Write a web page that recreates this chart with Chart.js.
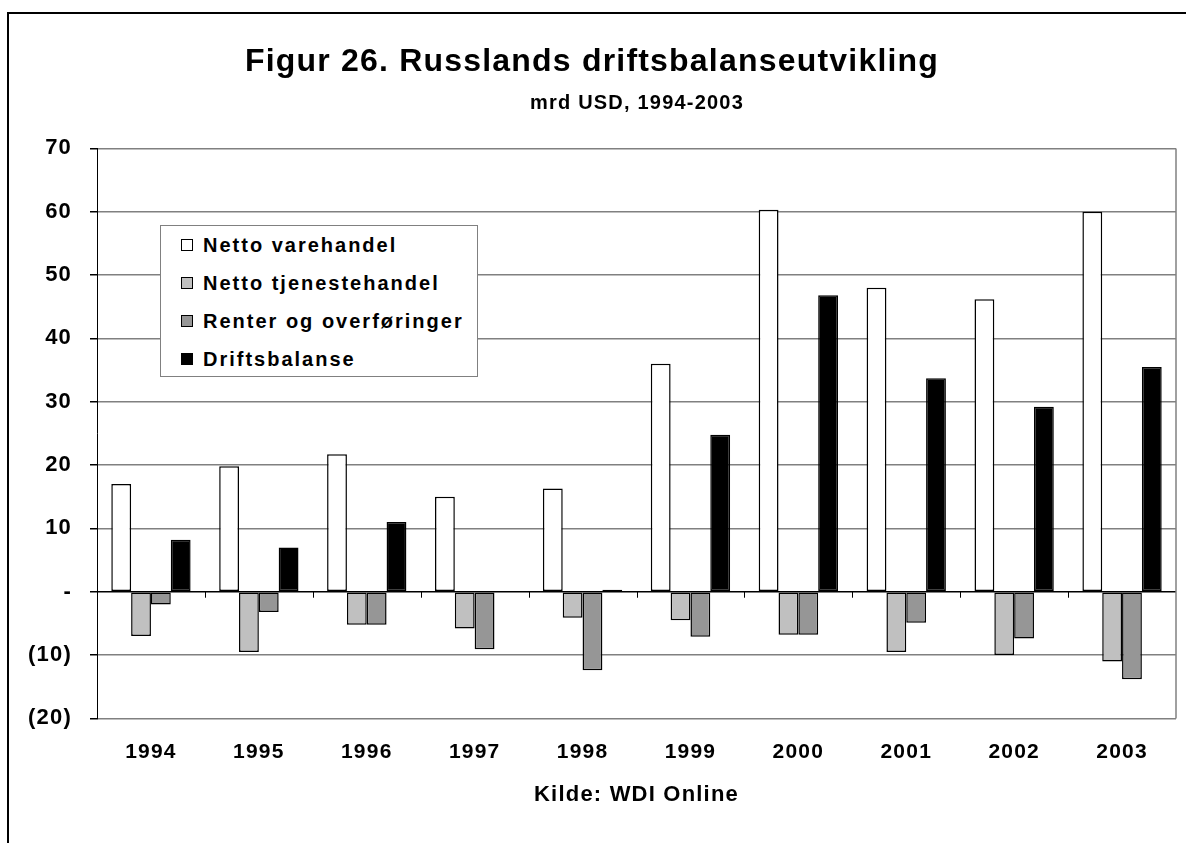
<!DOCTYPE html>
<html>
<head>
<meta charset="utf-8">
<title>Figur 26. Russlands driftsbalanseutvikling</title>
<script src="https://cdn.jsdelivr.net/npm/chart.js@4.4.0/dist/chart.umd.min.js"></script>
<style>
  html, body { margin: 0; padding: 0; background: #fff; }
  #wrap { position: relative; width: 1186px; height: 843px; overflow: hidden; }
  #frame {
    position: absolute; left: 7px; top: 12px; width: 1300px; height: 1000px;
    border-left: 2px solid #000; border-top: 2px solid #000; pointer-events: none;
  }
  #legend {
    position: absolute; left: 160px; top: 225px; width: 318px; height: 152px;
    box-sizing: border-box; border: 1.5px solid #808080; background: #fff;
    font: bold 20px 'Liberation Sans', Arial, sans-serif; letter-spacing: 2px; color: #000;
  }
  #legend .row { height: 38px; display: flex; align-items: center; white-space: nowrap; }
  #legend .sw { width: 10px; height: 10px; border: 1px solid #000; margin: 0 10px 0 20px; flex: none; }
</style>
</head>
<body>
<div id="wrap">
  <canvas id="chart" width="1186" height="843"></canvas>
  <div id="frame"></div>
  <div id="legend"></div>
</div>
<script>
// mrd USD, lest av figuren
const years = ['1994', '1995', '1996', '1997', '1998', '1999', '2000', '2001', '2002', '2003'];
const varehandel = [17.0, 19.8, 21.7, 15.0, 16.3, 36.0, 60.3, 48.0, 46.2, 60.0];
const tjenestehandel = [-7.0, -9.5, -5.2, -5.8, -4.1, -4.5, -6.8, -9.5, -10.0, -11.0];
const renter = [-2.0, -3.2, -5.2, -9.1, -12.4, -7.1, -6.8, -4.9, -7.4, -13.8];
const driftsbalanse = [8.2, 7.0, 11.0, 0.0, 0.3, 24.8, 46.8, 33.7, 29.2, 35.5];

const seriesNames = ['Netto varehandel', 'Netto tjenestehandel', 'Renter og overføringer', 'Driftsbalanse'];
const seriesColors = ['#FFFFFF', '#C0C0C0', '#969696', '#000000'];

const titleText = 'Figur 26. Russlands driftsbalanseutvikling';
const subtitleText = 'mrd USD, 1994-2003';
const font = "'Liberation Sans', Arial, sans-serif";

// plot frame, small category ticks on the zero line, title offsets
const framePlugin = {
    id: 'frame',
    afterLayout(chart) {
        chart.boxes.forEach(b => {
            if (b === chart.titleBlock) { b.left -= 6; b.right -= 6; }
            else if (b.options && b.options.text === subtitleText) { b.left += 39; b.right += 39; }
        });
    },
    beforeDraw(chart) {
        chart.ctx.letterSpacing = '1.2px';
    },
    beforeDatasetsDraw(chart) {
        const ctx = chart.ctx;
        const a = chart.chartArea;
        const x = chart.scales.x, y = chart.scales.y;
        ctx.save();
        ctx.strokeStyle = '#808080';
        ctx.lineWidth = 1.5;
        ctx.beginPath();
        ctx.moveTo(a.right, a.top);
        ctx.lineTo(a.right, a.bottom);
        ctx.stroke();

        const y0 = y.getPixelForValue(0);
        ctx.strokeStyle = '#000';
        ctx.lineWidth = 1;
        ctx.beginPath();
        for (let i = 1; i < years.length; i++) {
            const px = Math.round((x.getPixelForTick(i - 1) + x.getPixelForTick(i)) / 2) + 0.5;
            ctx.moveTo(px, y0);
            ctx.lineTo(px, y0 + 6);
        }
        ctx.stroke();
        ctx.restore();
    }
};

const datasets = [varehandel, tjenestehandel, renter, driftsbalanse].map((values, i) => ({
    label: seriesNames[i],
    data: values,
    backgroundColor: seriesColors[i],
    borderColor: '#000000',
    borderWidth: 1.5,
    borderSkipped: false,
    categoryPercentage: 0.735,
    barPercentage: 1.0
}));

const chart = new Chart(document.getElementById('chart').getContext('2d'), {
    type: 'bar',
    data: { labels: years, datasets: datasets },
    options: {
        responsive: false,
        animation: false,
        devicePixelRatio: 1,
        layout: { padding: { left: 20, right: 10, top: 0, bottom: 35 } },
        plugins: {
            legend: { display: false },
            tooltip: { enabled: false },
            title: {
                display: true,
                text: titleText,
                color: '#000',
                font: { family: font, size: 32, weight: 'bold' },
                padding: { top: 43, bottom: 3 }
            },
            subtitle: {
                display: true,
                text: subtitleText,
                color: '#000',
                font: { family: font, size: 20, weight: 'bold' },
                padding: { top: 7, bottom: 33 }
            }
        },
        scales: {
            x: {
                grid: { display: false, drawTicks: false },
                border: { display: false },
                ticks: {
                    color: '#000',
                    font: { family: font, size: 21, weight: 'bold' },
                    padding: 21,
                    maxRotation: 0
                },
                title: {
                    display: true,
                    text: 'Kilde: WDI Online',
                    color: '#000',
                    font: { family: font, size: 22, weight: 'bold' },
                    padding: { top: -4, bottom: 0 }
                }
            },
            y: {
                min: -20,
                max: 70,
                afterFit(scale) { scale.width = 77; },
                ticks: {
                    stepSize: 10,
                    color: '#000',
                    font: { family: font, size: 22, weight: 'bold' },
                    padding: 18,
                    callback: v => v === 0 ? '-' : (v < 0 ? '(' + Math.abs(v) + ')' : String(v))
                },
                grid: {
                    color: c => c.tick && c.tick.value === 0 ? '#000000' : '#808080',
                    lineWidth: 1.5,
                    tickLength: 7,
                    tickColor: '#000000'
                },
                border: { display: true, color: '#000000', width: 1 }
            }
        }
    },
    plugins: [framePlugin]
});

// legend box built from the chart's datasets
const legendEl = document.getElementById('legend');
chart.data.datasets.forEach(ds => {
    const row = document.createElement('div');
    row.className = 'row';
    const sw = document.createElement('span');
    sw.className = 'sw';
    sw.style.background = ds.backgroundColor;
    const txt = document.createElement('span');
    txt.textContent = ds.label;
    row.appendChild(sw);
    row.appendChild(txt);
    legendEl.appendChild(row);
});
</script>
</body>
</html>
